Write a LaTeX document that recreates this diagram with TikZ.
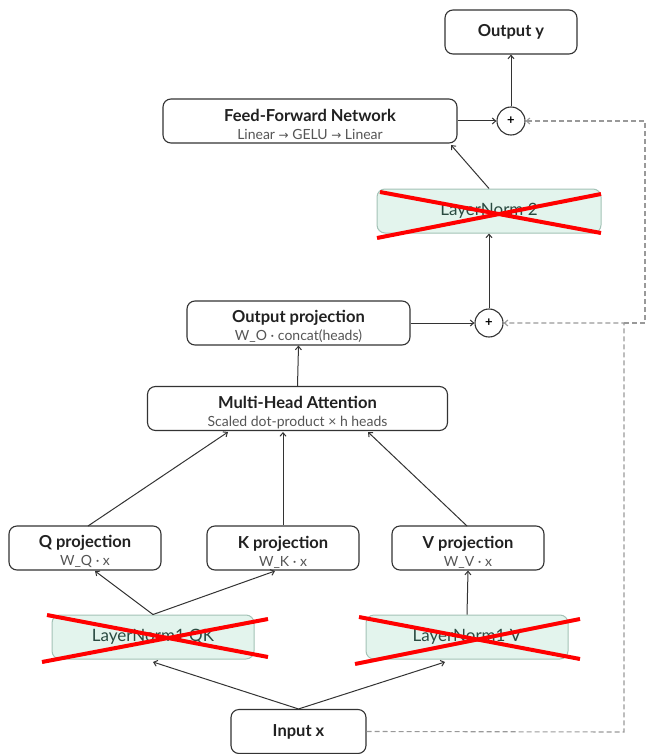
\documentclass[tikz,border=0pt]{standalone}
\usepackage{fontspec}
\setmainfont{Lato}
\newfontfamily\symfont{DejaVu Sans}
\usetikzlibrary{arrows.meta,calc}
\definecolor{boxline}{HTML}{333333}
\definecolor{subgray}{HTML}{555555}
\definecolor{lnfill}{HTML}{E3F4ED}
\definecolor{lnline}{HTML}{A3C2B6}
\definecolor{lntext}{HTML}{2A4A41}
\definecolor{dashgray}{HTML}{999999}
\tikzset{
  blk/.style={draw=boxline, line width=1.1pt, rounded corners=8pt, fill=white,
    minimum height=44pt, inner sep=0pt, align=center, text=black!87},
  lnbox/.style={draw=lnline, line width=1pt, rounded corners=8pt, fill=lnfill,
    minimum height=44pt, inner sep=0pt, text=lntext, font=\fontsize{17}{18}\selectfont},
  plusnode/.style={circle, draw=boxline, line width=1.1pt, fill=white, minimum size=28pt, inner sep=0pt, font=\fontsize{13}{13}\selectfont\bfseries},
  arr/.style={draw=boxline, line width=1pt, -{Straight Barb[length=3.5pt,width=6pt]}},
  resid/.style={draw=dashgray, line width=1.1pt, dash pattern=on 5pt off 3pt},
  residarr/.style={resid, -{Straight Barb[length=3.5pt,width=6pt]}},
  cross/.style={draw=red, line width=4pt},
  two/.style={font=\fontsize{14}{18}\selectfont},
}
\newcommand{\ttl}[1]{{\fontsize{16.5}{18}\selectfont\bfseries #1}}
\newcommand{\ttlb}[1]{{\fontsize{16.5}{18}\selectfont\bfseries\rule{0pt}{20pt}#1}}
\newcommand{\subt}[1]{{\fontsize{14}{18}\selectfont\color{subgray}#1}}
\newcommand{\rarr}{{\symfont\fontsize{12}{13}\selectfont →}}
\begin{document}
\begin{tikzpicture}[x=1pt,y=-1pt]
\useasboundingbox (0,0) rectangle (646,754);
% nodes
\node[blk, minimum width=132pt] (out) at (511,32) {\ttl{Output y}};
\node[plusnode] (p1) at (511,121) {+};
\node[blk, two, minimum width=294pt] (ffn) at (310,121) {\ttlb{Feed-Forward Network}\\\subt{Linear \rarr\ GELU \rarr\ Linear}};
\node[lnbox, minimum width=224pt] (ln2) at (489,211) {LayerNorm 2};
\node[plusnode] (p2) at (489,323) {+};
\node[blk, two, minimum width=223pt] (op) at (298.5,323) {\ttlb{Output projection}\\\subt{W\_O · concat(heads)}};
\node[blk, two, minimum width=300pt] (mha) at (297.5,408.5) {\ttlb{Multi-Head Attention}\\\subt{Scaled dot-product × h heads}};
\node[blk, two, minimum width=152pt] (q) at (85,548) {\ttlb{Q projection}\\\subt{W\_Q · x}};
\node[blk, two, minimum width=152pt] (k) at (283,548) {\ttlb{K projection}\\\subt{W\_K · x}};
\node[blk, two, minimum width=152pt] (v) at (468,548) {\ttlb{V projection}\\\subt{W\_V · x}};
\node[lnbox, minimum width=202pt] (lnqk) at (153,637) {LayerNorm1 QK};
\node[lnbox, minimum width=202pt] (lnv) at (467,637) {LayerNorm1 V};
\node[blk, minimum width=135pt] (in) at (298.5,731.5) {\ttl{Input x}};
% helper coordinates
\coordinate (ffnin) at (451,145);
\coordinate (mhaq) at (228,432);
\coordinate (mhak) at (283,432);
\coordinate (mhav) at (368,432);
\coordinate (qin) at (95,571);
\coordinate (kin) at (275,571);
\coordinate (lnvin) at (445,662);
\coordinate (qkin) at (153,662);
\coordinate (qout) at (88,526);
\coordinate (vout) at (467,526);
\coordinate (j1) at (624,323);
\coordinate (j2) at (645,323);
\coordinate (j3) at (645,121);
\coordinate (j0) at (624,732);
% connectors
\draw[arr] (p1.north) -- (out.south);
\draw[arr] (ffn.east) -- (p1.west);
\draw[arr] (ln2.north) -- (ffnin);
\draw[arr] (p2.north) -- (ln2.south);
\draw[arr] (op.east) -- (p2.west);
\draw[arr] (mha.north) -- (op.south);
\draw[arr] (qout) -- (mhaq);
\draw[arr] (k.north) -- (mhak);
\draw[arr] (vout) -- (mhav);
\draw[arr] (lnqk.north) -- (qin);
\draw[arr] (lnqk.north) -- (kin);
\draw[arr] (lnv.north) -- (v.south);
\draw[arr] (in.north) -- (qkin);
\draw[arr] (in.north) -- (lnvin);
% residuals
\draw[residarr] (in.east) -- (j0) -- (j1) -- (p2.east);
\draw[residarr] (j1) -- (j2) -- (j3) -- (p1.east);
% crosses
\draw[cross] (377,238) -- (601,194);
\draw[cross] (380,192) -- (601,233);
\draw[cross] (47,615) -- (268,657);
\draw[cross] (42,662) -- (268,619);
\draw[cross] (359,617) -- (580,659);
\draw[cross] (355,664) -- (580,619);
\end{tikzpicture}
\end{document}
